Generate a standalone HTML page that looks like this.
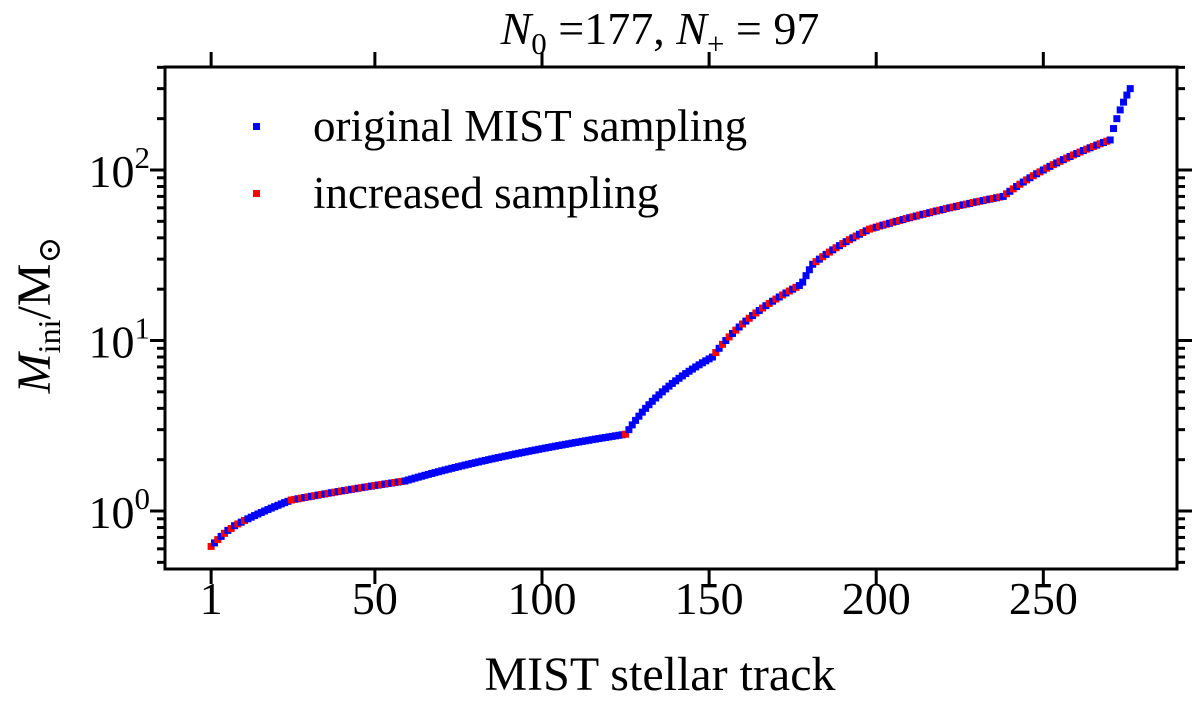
<!DOCTYPE html>
<html><head><meta charset="utf-8"><style>
html,body{margin:0;padding:0;background:#fff;}
svg{display:block;font-family:"Liberation Serif","DejaVu Serif",serif;}
</style></head><body>
<svg id="chart" width="1200" height="702" viewBox="0 0 1200 702" xmlns="http://www.w3.org/2000/svg">
<rect x="0" y="0" width="1200" height="702" fill="#fff"/>
<g id="marks"></g>
<rect x="165" y="67" width="1012" height="502" fill="none" stroke="#000" stroke-width="3"/>
<g id="ticks"></g>
<text x="660" y="44" font-size="46" text-anchor="middle"><tspan font-style="italic">N</tspan><tspan font-size="31" dy="10">0</tspan><tspan dy="-10"> =177, </tspan><tspan font-style="italic">N</tspan><tspan font-size="31" dy="10">+</tspan><tspan dy="-10"> = 97</tspan></text>
<text x="660" y="690" font-size="48" text-anchor="middle">MIST stellar track</text>
<text transform="translate(50,315) rotate(-90)" font-size="48" text-anchor="middle"><tspan font-style="italic">M</tspan><tspan font-size="32" dy="10">ini</tspan><tspan dy="-10">/M</tspan><tspan font-size="32" dy="10">⊙</tspan></text>
<g>
<rect x="253" y="123" width="7" height="7" fill="#0000ff"/>
<text x="313" y="141" font-size="45">original MIST sampling</text>
<rect x="253" y="190" width="7" height="7" fill="#ff0000"/>
<text x="313" y="208" font-size="45">increased sampling</text>
</g>
</svg>
<script>
// segment mass values (M_sun); sampling: 'alt' = interleaved added tracks, 'orig' = original only
const segA = [0.62,0.65,0.68,0.71,0.74,0.77,0.79,0.82,0.84,0.86,0.88,0.90,0.92,0.94,0.96,0.98,1.00,1.02,1.04,1.06,1.08,1.10,1.12,1.14,1.16];
const segB = [1.17,1.18,1.19,1.20,1.21,1.22,1.23,1.24,1.25,1.26,1.27,1.28,1.29,1.30,1.31,1.32,1.33,1.34,1.35,1.36,1.37,1.38,1.39,1.40,1.41,1.42,1.43,1.44,1.45,1.46,1.47,1.48,1.49,1.50];
const segC = [1.52,1.54,1.56,1.58,1.60,1.62,1.64,1.66,1.68,1.70,1.72,1.74,1.76,1.78,1.80,1.82,1.84,1.86,1.88,1.90,1.92,1.94,1.96,1.98,2.00,2.02,2.04,2.06,2.08,2.10,2.12,2.14,2.16,2.18,2.20,2.22,2.24,2.26,2.28,2.30,2.32,2.34,2.36,2.38,2.40,2.42,2.44,2.46,2.48,2.50,2.52,2.54,2.56,2.58,2.60,2.62,2.64,2.66,2.68,2.70,2.72,2.74,2.76,2.78,2.80,2.82];
const segD = [3.0,3.2,3.4,3.6,3.8,4.0,4.2,4.4,4.6,4.8,5.0,5.2,5.4,5.6,5.8,6.0,6.2,6.4,6.6,6.8,7.0,7.2,7.4,7.6,7.8,8.0];
const segE = [8.5,9,9.5,10,10.5,11,11.5,12,12.5,13,13.5,14,14.5,15,15.5,16,16.5,17,17.5,18,18.5,19,19.5,20,20.5,21];
const segF = [22,24,26,28];
const segG = [29,30,31,32,33,34,35,36,37,38,39,40,41,42,43,44,45];
const segH = [45.6,46.2,46.9,47.5,48.1,48.7,49.4,50,50.6,51.2,51.9,52.5,53.1,53.7,54.4,55,55.6,56.2,56.9,57.5,58.1,58.7,59.4,60,60.6,61.2,61.9,62.5,63.1,63.7,64.4,65,65.6,66.2,66.9,67.5,68.1,68.7,69.4,70];
const segI = [72.5,75,77.5,80,82.5,85,87.5,90,92.5,95,97.5,100,102.5,105,107.5,110,112.5,115,117.5,120,122.5,125,127.5,130,132.5,135,137.5,140,142.5,145,147.5,150];
const segJ = [175,200,225,250,275,300];
const segments = [[segA,'altA'],[segB,'alt'],[segC,'orig'],[segD,'orig'],[segE,'alt'],[segF,'orig'],[segG,'alt'],[segH,'alt'],[segI,'alt'],[segJ,'orig']];
const xTicks = [1,50,100,150,200,250];
const yDecades = [0,1,2];

const NS='http://www.w3.org/2000/svg';
const X0=165,X1=1177,Y0=67,Y1=569;
const xMin=-12.8,xMax=290.0, lMin=Math.log10(0.457), lMax=2.604;
const xs=v=>X0+(v-xMin)/(xMax-xMin)*(X1-X0);
const ys=v=>Y1-(Math.log10(v)-lMin)/(lMax-lMin)*(Y1-Y0);
function el(t,a,p){const e=document.createElementNS(NS,t);for(const k in a)e.setAttribute(k,a[k]);p.appendChild(e);return e;}

const marks=document.getElementById('marks');
let track=1;
segments.forEach(([arr,mode],si)=>{
  arr.forEach((m,i)=>{
    let red=false;
    if(mode==='alt') red=(i%2===0);
    if(mode==='altA') red=(i<12&&i%2===0)||i===arr.length-1;
    if(mode==='orig'&&si===2&&i===arr.length-1) red=true;
    const x=xs(track),y=ys(m);
    const r=el('rect',{x:x-3.5,y:y-3.5,width:7,height:7,fill:red?'#ff0000':'#0000ff'},marks);
    
    
    track++;
  });
});

const tg=document.getElementById('ticks');
xTicks.forEach(v=>{
  const x=xs(v);
  el('line',{x1:x,y1:Y1,x2:x,y2:Y1+15,stroke:'#000','stroke-width':3},tg);
  el('line',{x1:x,y1:Y0,x2:x,y2:Y0-15,stroke:'#000','stroke-width':3},tg);
  const t=el('text',{x:x,y:614,'font-size':46,'text-anchor':'middle'},tg);
  t.textContent=v;
  
  
});
[-1,0,1,2].forEach(d=>{
  for(let k=1;k<10;k++){
    const v=k*Math.pow(10,d);
    const l=Math.log10(v); if(l<lMin||l>lMax) continue;
    const y=ys(v); const len=k===1?15:8;
    el('line',{x1:X0,y1:y,x2:X0-len,y2:y,stroke:'#000','stroke-width':3},tg);
    el('line',{x1:X1,y1:y,x2:X1+len,y2:y,stroke:'#000','stroke-width':3},tg);
  }
});
yDecades.forEach(d=>{
  const y=ys(Math.pow(10,d));
  const t=el('text',{x:150,y:y+17,'font-size':46,'text-anchor':'end'},tg);
  
  
  const a=document.createElementNS(NS,'tspan');a.textContent='10';t.appendChild(a);
  const b=document.createElementNS(NS,'tspan');b.setAttribute('font-size','31');b.setAttribute('dy','-19');b.textContent=d;t.appendChild(b);
});
</script>
</body></html>
